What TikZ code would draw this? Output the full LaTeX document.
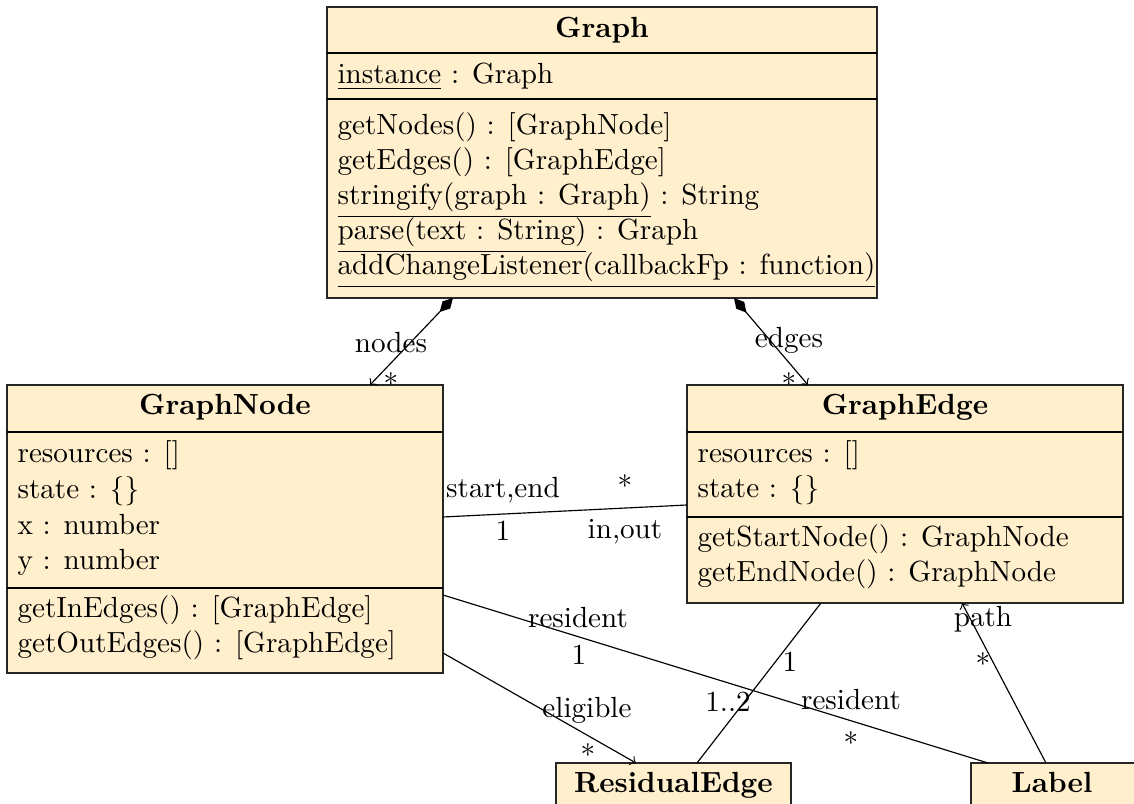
\documentclass[tikz,border=0pt]{standalone}
\usetikzlibrary{arrows.meta,fit}
\definecolor{umlfill}{RGB}{255,239,204}
\tikzset{
  classbox/.style={draw=black!85, fill=umlfill, line width=0.45pt, inner sep=0pt, outer sep=0pt},
  sepline/.style={draw=black, line width=0.45pt},
  txt/.style={anchor=base west, inner sep=0pt},
  ttl/.style={anchor=base, inner sep=0pt, font=\bfseries},
  lbl/.style={anchor=base, inner sep=0pt},
  assoc/.style={draw=black, line width=0.4pt},
  comp/.style={assoc, {Diamond[length=6.6pt,width=3.6pt]}-to},
  navi/.style={assoc, -to}
}
\begin{document}
\begin{tikzpicture}[x=0.3432pt, y=-0.3432pt]
\path[use as bounding box] (0,0) rectangle (1134,804);
\clip (0,0) rectangle (1134,804);

% ---------- Graph ----------
\node[classbox, fit={(327,7) (877,298)}] (graph) {};
\draw[sepline] (graph.west |- 0,53) -- (graph.east |- 0,53);
\draw[sepline] (graph.west |- 0,99) -- (graph.east |- 0,99);
\node[ttl] (graphT) at (602,38) {Graph};
\node[txt] (graphA1) at (337,84) {\underline{instance} : Graph};
\node[txt] (graphM1) at (337,135) {getNodes() : [GraphNode]};
\node[txt] (graphM2) at (337,170) {getEdges() : [GraphEdge]};
\node[txt] (graphM3) at (337,205) {\underline{stringify(graph : Graph)} : String};
\node[txt] (graphM4) at (337,240) {\underline{parse(text : String)} : Graph};
\node[txt] (graphM5) at (337,275) {\underline{addChangeListener(callbackFp : function)}};

% ---------- GraphNode ----------
\node[classbox, fit={(7,385) (443,673)}] (gnode) {};
\draw[sepline] (gnode.west |- 0,432) -- (gnode.east |- 0,432);
\draw[sepline] (gnode.west |- 0,588) -- (gnode.east |- 0,588);
\node[ttl] (gnodeT) at (225,415) {GraphNode};
\node[txt] (gnodeA1) at (17,463) {resources : []};
\node[txt] (gnodeA2) at (17,499) {state : \{\}};
\node[txt] (gnodeA3) at (17,535) {x : number};
\node[txt] (gnodeA4) at (17,570) {y : number};
\node[txt] (gnodeM1) at (17,618) {getInEdges() : [GraphEdge]};
\node[txt] (gnodeM2) at (17,653) {getOutEdges() : [GraphEdge]};

% ---------- GraphEdge ----------
\node[classbox, fit={(687,385) (1123,603)}] (gedge) {};
\draw[sepline] (gedge.west |- 0,432) -- (gedge.east |- 0,432);
\draw[sepline] (gedge.west |- 0,517) -- (gedge.east |- 0,517);
\node[ttl] (gedgeT) at (905,415) {GraphEdge};
\node[txt] (gedgeA1) at (697,463) {resources : []};
\node[txt] (gedgeA2) at (697,498) {state : \{\}};
\node[txt] (gedgeM1) at (697,547) {getStartNode() : GraphNode};
\node[txt] (gedgeM2) at (697,582) {getEndNode() : GraphNode};

% ---------- ResidualEdge ----------
\node[classbox, fit={(556,763) (791,840)}] (resid) {};
\node[ttl] (residT) at (673.5,793) {ResidualEdge};

% ---------- Label ----------
\node[classbox, fit={(971,763) (1137,840)}] (label) {};
\node[ttl] (labelT) at (1052,793) {Label};

% ---------- connectors ----------
\draw[comp] (graph.south -| 453,0) -- (gnode.north -| 370,0);
\draw[comp] (graph.south -| 734,0) -- (gedge.north -| 808,0);
\draw[assoc] (gnode.east |- 0,517) -- (gedge.west |- 0,505);
\draw[assoc] (gnode.east |- 0,595) -- (label.north -| 988,0);
\draw[navi] (gnode.east |- 0,653) -- (resid.north -| 636,0);
\draw[assoc] (gedge.south -| 821,0) -- (resid.north -| 697,0);
\draw[navi] (label.north -| 1046,0) -- (gedge.south -| 962,0);

% ---------- labels ----------
\node[lbl] (lNodes) at (391,353) {nodes};
\node[lbl] (mNodes) at (391,395) {*};
\node[lbl] (lEdges) at (789,348) {edges};
\node[lbl] (mEdges) at (789,395) {*};
\node[lbl] (lStart) at (503,498) {start,end};
\node[lbl] (mStart) at (625,497) {*};
\node[lbl] (mOne) at (503,541) {1};
\node[lbl] (lInOut) at (625,539) {in,out};
\node[lbl] (lRes1) at (578,628) {resident};
\node[lbl] (mRes1) at (579,665) {1};
\node[lbl] (lElig) at (587,718) {eligible};
\node[lbl] (mElig) at (588,766) {*};
\node[lbl] (mRE1) at (790,672) {1};
\node[lbl] (mRE2) at (728,712) {1..2};
\node[lbl] (lRes2) at (851,710) {resident};
\node[lbl] (mRes2) at (851,754) {*};
\node[lbl] (lPath) at (983,627) {path};
\node[lbl] (mPath) at (983,675) {*};
\end{tikzpicture}
\end{document}
